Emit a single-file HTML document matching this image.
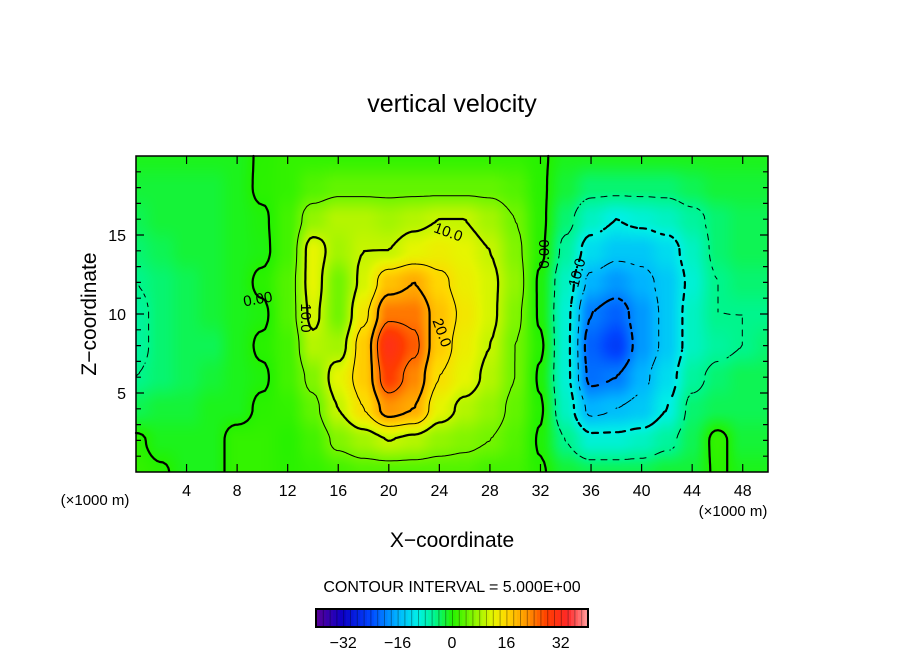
<!DOCTYPE html>
<html><head><meta charset="utf-8"><style>
html,body{margin:0;padding:0;background:#fff;}
#wrap{position:relative;width:904px;height:654px;overflow:hidden;font-family:"Liberation Sans",sans-serif;}
canvas{position:absolute;left:0;top:0;}
svg{position:absolute;left:0;top:0;}
</style></head><body>
<div id="wrap">
<canvas id="cv" width="904" height="654"></canvas>
<svg id="sv" width="904" height="654"></svg>
</div>
<script>
// ---- data ----
const xValues = [0,2,4,6,8,10,12,14,16,18,20,22,24,26,28,30,32,34,36,38,40,42,44,46,48,50];
const zValues = [20,18,16,14,12,10,8,6,4,2,0];
const w20 = [-1,-1,-1,-1,-1,0.4,1,1,1,1,1,1,1,1,1,1,0.3,-1,-1,-1,-1,-1,-1,-1,-1,-1];
const w18 = [-2,-2,-2,-2,-1,0.5,1,3,4,4,4,4,4,4,4,3,0.4,-2,-4,-4,-4,-4,-3,-2,-2,-2];
const w16 = [-3,-2,-2,-2,-1,-0.4,2,7,9,9,8,9,10,10,8,5,0.6,-4,-8,-10,-9,-8,-6,-4,-3,-3];
const w14 = [-4,-3,-2,-2,-1,-0.6,2,12,8,10,10,12,13,12,10,6,0.5,-6,-12,-14,-14,-12,-8,-4,-3,-3];
const w12 = [-5,-4,-3,-2,-1,0.5,3,12,5,11,18,20,16,13,11,7,-0.5,-8,-16,-18,-16,-14,-9,-5,-4,-4];
const w10 = [-6,-4,-3,-2,-1,-0.5,3,11,5,14,24,24,18,14,11,6,-0.4,-9,-20,-22,-18,-14,-8,-5,-5,-5];
const w8  = [-6,-4,-3,-3,-1,0.4,2,9,8,17,31,26,17,13,10,5,0.4,-9,-22,-25,-18,-14,-8,-6,-5,-4];
const w6  = [-5,-4,-3,-2,-1,-0.4,2,6,12,17,28,23,15,12,9,5,-0.4,-9,-21,-20,-16,-12,-6,-4,-3,-3];
const w4  = [-3,-2,-2,-1,-1,0.5,1,4,10,15,22,20,12,9,7,4,0.3,-8,-16,-15,-14,-10,-4,-3,-3,-3];
const w2  = [0.5,-1,-1,-1,1,1,0.3,2,6,8,10,9,7,6,5,3,-0.3,-5,-9,-9,-8,-6,-3,1,-2,-2];
const w0  = [1,0.3,-1,-1,1,1,0.4,1,2,3,3,3,3,3,2,2,0.3,-2,-3,-3,-3,-2,-2,0.5,-1,-1];
const xTicks = [4,8,12,16,20,24,28,32,36,40,44,48];
const zTicks = [5,10,15];
const cbTicks = [-32,-16,0,16,32];
const contourLevels = [-25,-20,-15,-10,-5,0,5,10,15,20,25];
const rows = [w20,w18,w16,w14,w12,w10,w8,w6,w4,w2,w0];

// ---- axes ----
const PX0=136,PX1=768,PY0=156,PY1=472;
const sx = x => PX0 + (x-0)/(50-0)*(PX1-PX0);
const sz = z => PY1 - (z-0)/(20-0)*(PY1-PY0);
const CB0=316,CB1=588;
const sc = v => CB0 + (v+40)/80*(CB1-CB0);

const stops=[[-40,[90,0,150]],[-32,[10,0,200]],[-24,[0,70,255]],[-16,[0,180,255]],[-10,[0,240,230]],[-5,[0,245,140]],[0,[35,242,0]],[6,[130,245,0]],[12,[230,245,0]],[16,[255,215,0]],[22,[255,150,0]],[28,[255,60,0]],[34,[255,40,40]],[40,[255,160,160]]];
function col(v){
  if(v<=stops[0][0])return stops[0][1];
  for(let i=1;i<stops.length;i++){if(v<=stops[i][0]){const a=stops[i-1],b=stops[i];const t=(v-a[0])/(b[0]-a[0]);return a[1].map((c,k)=>Math.round(c+(b[1][k]-c)*t));}}
  return stops[stops.length-1][1];
}
function field(x,z){
  const fx=(x-xValues[0])/(xValues[1]-xValues[0]);
  const fz=(zValues[0]-z)/(zValues[0]-zValues[1]);
  let i=Math.max(0,Math.min(xValues.length-2,Math.floor(fx)));
  let j=Math.max(0,Math.min(zValues.length-2,Math.floor(fz)));
  const tx=Math.min(1,Math.max(0,fx-i)),tz=Math.min(1,Math.max(0,fz-j));
  const a=rows[j][i],b=rows[j][i+1],c=rows[j+1][i],d=rows[j+1][i+1];
  const s=t=>t*t*(3-2*t);
  const ux=s(tx),uz=s(tz);
  return a*(1-ux)*(1-uz)+b*ux*(1-uz)+c*(1-ux)*uz+d*ux*uz;
}
const inv=(px,py)=>[(px-PX0)/(PX1-PX0)*50,(PY1-py)/(PY1-PY0)*20];

// ---- heatmap ----
const ctx=document.getElementById('cv').getContext('2d');
const img=ctx.createImageData(PX1-PX0,PY1-PY0);
for(let py=0;py<PY1-PY0;py++)for(let px=0;px<PX1-PX0;px++){
  const [x,z]=inv(PX0+px+0.5,PY0+py+0.5);const c=col(field(x,z));const o=(py*(PX1-PX0)+px)*4;
  img.data[o]=c[0];img.data[o+1]=c[1];img.data[o+2]=c[2];img.data[o+3]=255;}
ctx.putImageData(img,PX0,PY0);

// ---- svg ----
const NS='http://www.w3.org/2000/svg';
const sv=document.getElementById('sv');
function el(t,a,p){const e=document.createElementNS(NS,t);for(const k in a)e.setAttribute(k,a[k]);(p||sv).appendChild(e);return e;}
function txt(x,y,s,size,extra){const e=el('text',Object.assign({x:x,y:y,'font-size':size,fill:'#000','text-anchor':'middle','font-family':'Liberation Sans, sans-serif'},extra||{}));e.textContent=s;return e;}

// contours via marching squares
const STEP=3;
const nx=Math.floor((PX1-PX0)/STEP),ny=Math.floor((PY1-PY0)/STEP);
const G=[];
for(let j=0;j<=ny;j++){G.push([]);for(let i=0;i<=nx;i++){const [x,z]=inv(PX0+i*STEP,PY0+j*STEP);G[j].push(field(x,z));}}
const cg=el('g',{});


contourLevels.forEach(L=>{
  let d='';
  for(let j=0;j<ny;j++)for(let i=0;i<nx;i++){
    const v=[G[j][i],G[j][i+1],G[j+1][i+1],G[j+1][i]];
    const P=[[i,j],[i+1,j],[i+1,j+1],[i,j+1]];
    const pts=[];
    for(let e=0;e<4;e++){const a=v[e],b=v[(e+1)%4];if((a<L)!==(b<L)){const t=(L-a)/(b-a);const p=P[e],q=P[(e+1)%4];pts.push([PX0+(p[0]+(q[0]-p[0])*t)*STEP,PY0+(p[1]+(q[1]-p[1])*t)*STEP]);}}
    if(pts.length>=2){
      if(L<0){const m=Math.floor((i+j)/2);if(m%2)continue;}
      d+='M'+pts[0][0].toFixed(1)+' '+pts[0][1].toFixed(1)+'L'+pts[1][0].toFixed(1)+' '+pts[1][1].toFixed(1);
      if(pts.length===4)d+='M'+pts[2][0].toFixed(1)+' '+pts[2][1].toFixed(1)+'L'+pts[3][0].toFixed(1)+' '+pts[3][1].toFixed(1);
    }
  }
  const p=el('path',{d:d,stroke:'#000',fill:'none','stroke-width':(L%10===0)?2.2:1,'stroke-linecap':'round'},cg);
  
  
});

// contour labels
[[448,233,'10.0',20],[258,300,'0.00',-10],[305,318,'10.0',90],[441,333,'20.0',70],[545,254,'0.00',-90],[578,273,'10.0',-75]].forEach(l=>{
  const t=txt(l[0],l[1],l[2],15,{transform:'rotate('+l[3]+' '+l[0]+' '+l[1]+')','dominant-baseline':'middle'});
  
  
});

// frame
const fr=el('rect',{x:PX0,y:PY0,width:PX1-PX0,height:PY1-PY0,fill:'none',stroke:'#000','stroke-width':1.5});


// ticks
let td='';
xTicks.forEach(x=>{td+='M'+sx(x)+' '+PY1+'v-8M'+sx(x)+' '+PY0+'v8';});
for(let z=1;z<20;z++){td+='M'+PX0+' '+sz(z)+'h'+(z%5===0?8:5)+'M'+PX1+' '+sz(z)+'h-'+(z%5===0?8:5);}
const tk=el('path',{d:td,stroke:'#000','stroke-width':1.2,fill:'none'});


xTicks.forEach(x=>{const t=txt(sx(x),496,String(x),16);});
zTicks.forEach(z=>{const t=txt(126,sz(z)+6,String(z),16,{'text-anchor':'end'});});

let t;
t=txt(452,112,'vertical velocity',25);
t=txt(96,314,'Z\u2212coordinate',21,{transform:'rotate(-90 96 314)'});
t=txt(452,547,'X\u2212coordinate',21);
t=txt(95,505,'(\u00d71000 m)',15);
t=txt(733,516,'(\u00d71000 m)',15);
t=txt(452,592,'CONTOUR INTERVAL = 5.000E+00',16);

// colorbar
const cb=el('g',{});


for(let v=-40;v<40;v++){
  const c=col(v+0.5);
  const r=el('rect',{x:sc(v),y:609,width:(CB1-CB0)/80+0.3,height:18,fill:'rgb('+c.join(',')+')'},cb);
  
  
  if(v%2===0){const s=el('rect',{x:sc(v),y:609,width:1,height:18,fill:'rgba(0,0,0,0.35)'},cb);}
}
const cbf=el('rect',{x:CB0,y:609,width:CB1-CB0,height:18,fill:'none',stroke:'#000','stroke-width':2},cb);


cbTicks.forEach(v=>{const tt=txt(sc(v),648,(v<0?'\u2212':'')+Math.abs(v),16);});
</script>
</body></html>
